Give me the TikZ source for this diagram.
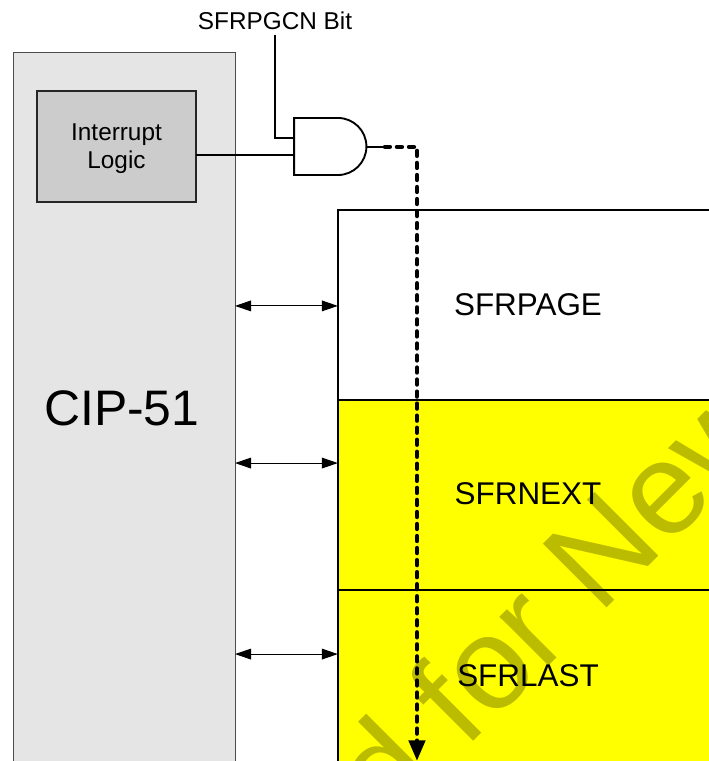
\documentclass[tikz,border=0pt]{standalone}
\usepackage{fontspec}
\setmainfont{Liberation Sans}
\usetikzlibrary{arrows.meta}
\definecolor{cipgray}{HTML}{E5E5E5}
\definecolor{logicgray}{HTML}{CCCCCC}
\definecolor{markolive}{HTML}{BBBB00}
\definecolor{regyellow}{HTML}{FFFF00}
\tikzset{
  cipbox/.style={draw=black!70,fill=cipgray,line width=0.7pt,inner sep=0,outer sep=0},
  logicbox/.style={draw=black!85,fill=logicgray,line width=1.3pt,inner sep=0,outer sep=0},
  regbox/.style={draw=black,line width=1.8pt,inner sep=0,outer sep=0},
  smalltext/.style={font=\fontsize{18.2}{21}\selectfont,inner sep=0,align=center},
  reglabel/.style={font=\fontsize{23.5}{28}\selectfont,inner sep=0},
  wire/.style={line width=1.4pt},
  bus/.style={line width=0.8pt,{Triangle[length=12pt,width=8pt]}-{Triangle[length=12pt,width=8pt]}},
  pagepath/.style={line width=3.4pt,line cap=round,line join=round,dash pattern=on 3.6pt off 5.4pt,-{Triangle[length=15.5pt,width=12pt]}}
}
\begin{document}
\begin{tikzpicture}
\useasboundingbox (0,0) rectangle (18.633,20);

\node[cipbox,minimum width=5.834cm,minimum height=18.712cm] (cip) at (3.259,9.277) {};
\node[regbox,fill=white,minimum width=9.987cm,minimum height=4.993cm] (sfrpage) at (13.876,11.984) {};
\node[regbox,fill=regyellow,minimum width=9.987cm,minimum height=4.993cm] (sfrnext) at (13.876,6.991) {};
\node[regbox,fill=regyellow,minimum width=9.987cm,minimum height=4.520cm] (sfrlast) at (13.876,2.234) {};

\begin{scope}
\clip (sfrnext.north west) rectangle (sfrlast.south east);
\node[anchor=base west,rotate=45,inner sep=0,text=markolive,font=\fontsize{98}{98}\selectfont] (mark) at (10.197,-1.733) {d for New};
\end{scope}
\draw[regbox] (sfrpage.south west) -- (sfrpage.south east);
\draw[regbox] (sfrnext.south west) -- (sfrnext.south east);
\draw[regbox] (sfrnext.north west) -- (sfrlast.south west);

\node[logicbox,minimum width=4.179cm,minimum height=2.917cm] (intlogic) at (3.062,16.150) {};
\node[smalltext] (intlabel) at (3.062,16.09) {Interrupt\\Logic};
\node[inner sep=0,font=\fontsize{37.3}{40}\selectfont] (ciplabel) at (3.200,9.277) {CIP-51};
\node[reglabel] (pagelabel) at (13.876,11.99) {SFRPAGE};
\node[reglabel] (nextlabel) at (13.876,7.03) {SFRNEXT};
\node[reglabel] (lastlabel) at (13.876,2.234) {SFRLAST};
\node[smalltext,inner sep=3.4pt] (bit) at (7.227,19.448) {SFRPGCN Bit};

\coordinate (gatein1) at (7.73,16.37);
\coordinate (gatein2) at (7.73,15.93);
\coordinate (gateout) at (9.645,16.14);
\coordinate (dashstart) at (10.118,16.14);
\coordinate (dashturn) at (10.959,16.14);
\coordinate (dashend) at (10.959,0);
\coordinate (buspage) at (8.88,11.96);
\coordinate (busnext) at (8.88,7.83);
\coordinate (buslast) at (8.88,2.81);

\draw[wire] (7.73,16.90) -- (8.88,16.90) arc[start angle=90,end angle=-90,radius=0.75] -- (7.73,15.40) -- cycle;
\draw[wire] (bit.south) -- (bit.south |- gatein1) -- (gatein1);
\draw[wire] (intlogic.east |- gatein2) -- (gatein2);
\draw[wire] (gateout) -- (dashstart);
\draw[pagepath] (dashstart) -- (dashturn) -- (dashend);

\draw[bus] (cip.east |- buspage) -- (buspage);
\draw[bus] (cip.east |- busnext) -- (busnext);
\draw[bus] (cip.east |- buslast) -- (buslast);
\end{tikzpicture}
\end{document}
